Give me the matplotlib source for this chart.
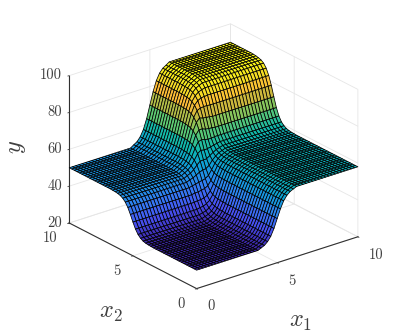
import numpy as np
import matplotlib
matplotlib.use("Agg")
import matplotlib.pyplot as plt
from matplotlib.colors import LinearSegmentedColormap

plt.rcParams['mathtext.fontset'] = 'cm'
plt.rcParams['axes.unicode_minus'] = False

x1 = [i * 0.2 for i in range(51)]
x2 = [i * 0.2 for i in range(51)]
x_ticks = [0, 5, 10]
x_tick_labels = ['0', '5', '10']
y_ticks = [0, 5, 10]
y_tick_labels = ['0', '5', '10']
z_ticks = [20, 40, 60, 80, 100]
z_tick_labels = ['20', '40', '60', '80', '100']

# Surface heights. Columns: flat part x1<=3.8, then
# x1=4.0,4.2,...,6.0, then flat part x1>=6.2. Rows: flat part x2<=3.4, then
# x2=3.6,...,8.4, then flat part x2>=8.6.
col_repeat = [20] + [1] * 11 + [20]
row_repeat = [18] + [1] * 25 + [8]
z_table = [
    [30.0, 30.8, 31.6, 33.1, 35.5, 39.2, 44.0, 48.7, 52.5, 54.9, 56.4, 57.2, 58.0],
    [30.1, 30.9, 31.7, 33.2, 35.5, 39.2, 44.0, 48.7, 52.5, 54.9, 56.4, 57.2, 58.0],
    [30.2, 31.0, 31.8, 33.2, 35.6, 39.2, 44.0, 48.7, 52.5, 54.9, 56.4, 57.2, 58.0],
    [30.4, 31.2, 31.9, 33.3, 35.7, 39.3, 44.0, 48.7, 52.5, 54.9, 56.4, 57.2, 58.0],
    [30.8, 31.5, 32.2, 33.6, 35.8, 39.4, 44.1, 48.7, 52.5, 54.9, 56.4, 57.2, 58.0],
    [31.6, 32.2, 32.8, 34.0, 36.1, 39.5, 44.1, 48.8, 52.5, 54.9, 56.4, 57.2, 58.0],
    [33.0, 33.5, 33.9, 35.0, 36.7, 39.9, 44.3, 48.8, 52.6, 54.9, 56.4, 57.2, 58.0],
    [35.2, 35.6, 35.8, 36.6, 37.9, 40.5, 44.6, 49.0, 52.6, 55.0, 56.5, 57.3, 58.0],
    [38.3, 38.6, 38.6, 39.0, 39.8, 41.7, 45.1, 49.2, 52.8, 55.1, 56.5, 57.3, 58.1],
    [41.7, 42.1, 42.1, 42.5, 42.8, 43.8, 46.2, 49.7, 53.0, 55.2, 56.7, 57.4, 58.2],
    [44.8, 45.3, 45.6, 46.1, 46.5, 47.0, 48.1, 50.7, 53.6, 55.6, 56.9, 57.7, 58.4],
    [47.0, 47.8, 48.3, 49.3, 50.3, 51.0, 51.1, 52.3, 54.6, 56.2, 57.5, 58.1, 58.8],
    [48.4, 49.4, 50.1, 51.5, 53.4, 55.0, 55.2, 55.2, 56.3, 57.5, 58.5, 59.0, 59.6],
    [49.2, 50.2, 51.2, 52.9, 55.4, 58.3, 59.7, 59.3, 59.4, 59.7, 60.2, 60.6, 61.0],
    [49.6, 50.7, 51.7, 53.6, 56.6, 60.5, 63.6, 64.2, 63.7, 63.3, 63.3, 63.5, 63.5],
    [49.8, 51.0, 52.0, 54.0, 57.2, 61.8, 66.4, 68.7, 68.8, 68.1, 67.8, 67.7, 67.4],
    [49.9, 51.1, 52.2, 54.2, 57.5, 62.5, 68.1, 72.0, 74.0, 73.4, 73.1, 73.0, 72.6],
    [50.0, 51.2, 52.3, 54.3, 57.7, 62.8, 69.0, 74.2, 77.2, 78.0, 78.3, 78.3, 78.1],
    [50.0, 51.2, 52.3, 54.4, 57.8, 63.0, 69.5, 75.4, 79.4, 81.3, 82.2, 82.5, 82.7],
    [50.0, 51.2, 52.3, 54.4, 57.9, 63.1, 69.7, 76.0, 80.7, 83.3, 84.7, 85.4, 85.9],
    [50.0, 51.2, 52.3, 54.4, 57.9, 63.2, 69.9, 76.4, 81.4, 84.4, 86.1, 87.0, 87.9],
    [50.0, 51.2, 52.3, 54.4, 57.9, 63.2, 70.0, 76.5, 81.7, 85.0, 86.9, 87.9, 88.9],
    [50.0, 51.2, 52.3, 54.4, 57.9, 63.2, 70.0, 76.6, 81.9, 85.3, 87.3, 88.3, 89.4],
    [50.0, 51.2, 52.3, 54.4, 57.9, 63.2, 70.0, 76.7, 82.0, 85.4, 87.5, 88.5, 89.7],
    [50.0, 51.2, 52.3, 54.4, 57.9, 63.2, 70.0, 76.7, 82.1, 85.5, 87.6, 88.7, 89.9],
    [50.0, 51.2, 52.3, 54.4, 57.9, 63.2, 70.0, 76.7, 82.1, 85.6, 87.7, 88.8, 90.0],
    [50.0, 51.2, 52.3, 54.4, 57.9, 63.2, 70.0, 76.7, 82.1, 85.6, 87.7, 88.8, 90.0],
]

parula_stops = [
    (0.000, (0.242, 0.150, 0.660)), (0.125, (0.281, 0.323, 0.958)),
    (0.250, (0.190, 0.500, 0.950)), (0.375, (0.060, 0.620, 0.850)),
    (0.500, (0.050, 0.720, 0.680)), (0.625, (0.400, 0.790, 0.420)),
    (0.750, (0.780, 0.720, 0.240)), (0.820, (0.990, 0.730, 0.220)),
    (0.900, (0.960, 0.860, 0.150)), (1.000, (0.977, 0.984, 0.080)),
]
parula = LinearSegmentedColormap.from_list('parula_like', parula_stops)

Z = np.repeat(np.repeat(np.array(z_table), row_repeat, axis=0), col_repeat, axis=1)
X, Y = np.meshgrid(x1, x2)

fig = plt.figure(figsize=(3.99, 3.32), dpi=100)
ax = fig.add_axes([0.024, 0.016, 1.0, 1.0], projection='3d')
ax.set_proj_type('ortho')
ax.view_init(elev=24, azim=231.7)
ax.set_box_aspect((1, 1, 0.785), zoom=0.972)
ax.patch.set_alpha(0)

ax.plot_surface(X, Y, Z, rstride=1, cstride=1, cmap=parula, vmin=30, vmax=90,
                edgecolor='black', linewidth=0.55, shade=False, antialiased=True)

ax.set_xlim(0, 10, view_margin=0)
ax.set_ylim(0, 10, view_margin=0)
ax.set_zlim(20, 100, view_margin=0)
ax.set_xticks(x_ticks, x_tick_labels, family='cmr10', fontsize=10.5, color='#404040', ha='left', va='center')
ax.set_yticks(y_ticks, y_tick_labels, family='cmr10', fontsize=10.5, color='#404040', ha='right', va='center')
ax.set_zticks(z_ticks, z_tick_labels, family='cmr10', fontsize=10.5, color='#404040', ha='right', va='center')

for axis in (ax.xaxis, ax.yaxis, ax.zaxis):
    axis.set_pane_color((1, 1, 1, 0))
    axis.pane.set_edgecolor((1, 1, 1, 0))
    axis.line.set_color('#303030')
    axis.line.set_linewidth(0.8)
    axis._axinfo['grid'].update(color='#e6e6e6', linewidth=0.6)
    axis._axinfo['tick'].update(inward_factor=0.1, outward_factor=0.0, linewidth={True: 0.6, False: 0.6})
    axis.set_rotate_label(False)
ax.xaxis.set_tick_params(colors='#404040', pad=2.5)
ax.yaxis.set_tick_params(colors='#404040', pad=1.5)
ax.zaxis.set_tick_params(colors='#404040', pad=-5)

ax.xaxis._axinfo['label'].update(ha='right')
ax.yaxis._axinfo['label'].update(ha='left')

ax.set_xlabel(r'$x_1\;\;\;\;$', fontsize=17.5, color='#404040', labelpad=13)
ax.set_ylabel(r'$\;\;x_2$', fontsize=17.5, color='#404040', labelpad=14)
ax.set_zlabel('$y$', fontsize=17.5, color='#404040', labelpad=2, rotation=90)

fig.savefig('out.png', dpi=100)
